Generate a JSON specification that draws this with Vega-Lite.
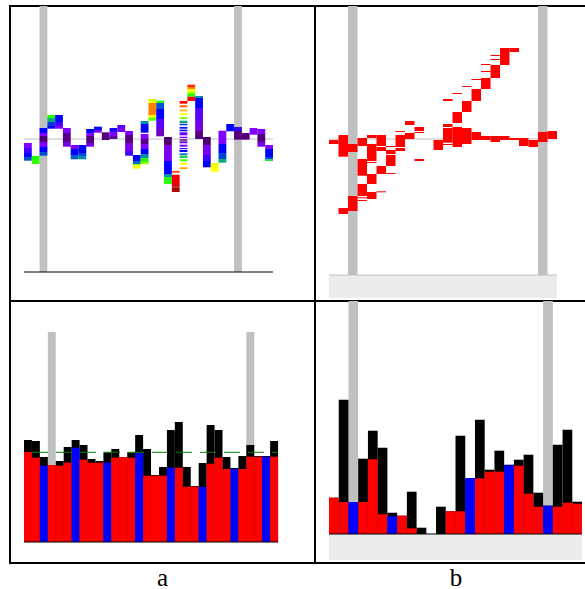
{
"$schema": "https://vega.github.io/schema/vega-lite/v6.json",
"padding": {"left": 9, "top": 5, "right": 0, "bottom": 0},
"columns": 2,
"align": "each",
"bounds": "flush",
"spacing": 0,
"config": {"view": {"stroke": "black", "strokeWidth": 2}, "scale": {"continuousPadding": 0}},
"resolve": {"scale": {"x": "independent", "y": "independent", "color": "independent"}},
"datasets": {
"atop": [
{"k":0,"hi":-4,"lo":-9,"lv":1},{"k":0,"hi":-9,"lo":-14,"lv":1.5},{"k":0,"hi":-14,"lo":-18,"lv":2},{"k":0,"hi":-18,"lo":-21.7,"lv":2.6},
{"k":1,"hi":-17,"lo":-21,"lv":4},{"k":1,"hi":-21,"lo":-25,"lv":4.1},
{"k":2,"hi":11,"lo":6,"lv":2},{"k":2,"hi":6,"lo":3,"lv":1},{"k":2,"hi":3,"lo":-3,"lv":0},{"k":2,"hi":-3,"lo":-8,"lv":1},{"k":2,"hi":-8,"lo":-13,"lv":2},{"k":2,"hi":-13,"lo":-16.7,"lv":2.6},
{"k":3,"hi":24,"lo":21,"lv":4},{"k":3,"hi":21,"lo":17,"lv":3.3},{"k":3,"hi":17,"lo":13,"lv":2.4},{"k":3,"hi":13,"lo":10.3,"lv":2},
{"k":4,"hi":24,"lo":17,"lv":2},{"k":4,"hi":17,"lo":13,"lv":1.5},{"k":4,"hi":13,"lo":10.3,"lv":1},
{"k":5,"hi":11,"lo":6,"lv":1},{"k":5,"hi":6,"lo":-3,"lv":0.2},{"k":5,"hi":-3,"lo":-7.7,"lv":0.8},
{"k":6,"hi":-6,"lo":-10,"lv":1},{"k":6,"hi":-10,"lo":-16,"lv":2},{"k":6,"hi":-16,"lo":-20.3,"lv":2.7},
{"k":7,"hi":-6,"lo":-14,"lv":2},{"k":7,"hi":-14,"lo":-17,"lv":2.5},{"k":7,"hi":-17,"lo":-20.3,"lv":3},
{"k":8,"hi":10,"lo":6,"lv":2},{"k":8,"hi":6,"lo":3,"lv":1},{"k":8,"hi":3,"lo":-4,"lv":0.1},{"k":8,"hi":-4,"lo":-7.7,"lv":0.8},
{"k":9,"hi":12.3,"lo":9,"lv":2},{"k":9,"hi":9,"lo":6.3,"lv":1},
{"k":10,"hi":6.7,"lo":-1,"lv":0.1},
{"k":11,"hi":11,"lo":7,"lv":1.8},{"k":11,"hi":7,"lo":3,"lv":1},{"k":11,"hi":3,"lo":0,"lv":0.3},
{"k":12,"hi":14,"lo":10,"lv":1.3},{"k":12,"hi":10,"lo":7,"lv":1},
{"k":13,"hi":8,"lo":4,"lv":1},{"k":13,"hi":4,"lo":-4,"lv":0.1},{"k":13,"hi":-4,"lo":-12,"lv":0.9},{"k":13,"hi":-12,"lo":-16.7,"lv":1.5},
{"k":14,"hi":-16,"lo":-22,"lv":2},{"k":14,"hi":-22,"lo":-25,"lv":2.8},{"k":14,"hi":-25,"lo":-26.5,"lv":4.5},{"k":14,"hi":-26.5,"lo":-29.7,"lv":5},
{"k":15,"hi":18,"lo":15,"lv":3},{"k":15,"hi":15,"lo":6.3,"lv":2},{"k":15,"hi":5,"lo":0,"lv":1},{"k":15,"hi":0,"lo":-5,"lv":0.2},{"k":15,"hi":-5,"lo":-10,"lv":1},{"k":15,"hi":-10,"lo":-15,"lv":2},{"k":15,"hi":-15,"lo":-19,"lv":3},{"k":15,"hi":-19,"lo":-23,"lv":4},{"k":15,"hi":-23,"lo":-25.3,"lv":4.6},
{"k":16,"hi":40,"lo":38,"lv":4.8},{"k":16,"hi":38,"lo":36,"lv":5},{"k":16,"hi":36,"lo":24,"lv":6},{"k":16,"hi":24,"lo":21.5,"lv":5},{"k":16,"hi":21.5,"lo":18.3,"lv":4.3},
{"k":17,"hi":38.3,"lo":36,"lv":4},{"k":17,"hi":36,"lo":30,"lv":2.6},{"k":17,"hi":30,"lo":20,"lv":2},{"k":17,"hi":20,"lo":10,"lv":1.3},{"k":17,"hi":10,"lo":2.7,"lv":0.6},
{"k":18,"hi":2,"lo":-6,"lv":0},{"k":18,"hi":-6,"lo":-22,"lv":0.9},{"k":18,"hi":-22,"lo":-35,"lv":2},{"k":18,"hi":-35,"lo":-38,"lv":3},{"k":18,"hi":-38,"lo":-45,"lv":4},
{"k":19,"hi":-32,"lo":-33.7,"lv":6.5},{"k":19,"hi":-35.7,"lo":-47.7,"lv":7.2},{"k":19,"hi":-47.7,"lo":-48.3,"lv":9},{"k":19,"hi":-48.3,"lo":-53,"lv":7.8},
{"k":20,"hi":38,"lo":35.3,"lv":7},{"k":20,"hi":33.7,"lo":31.7,"lv":6.2},{"k":20,"hi":29.3,"lo":27.7,"lv":5.6},{"k":20,"hi":25.7,"lo":23.7,"lv":5},{"k":20,"hi":21.7,"lo":20,"lv":4.3},{"k":20,"hi":18.3,"lo":16,"lv":3.3},{"k":20,"hi":15.3,"lo":13.7,"lv":2.4},{"k":20,"hi":12,"lo":10.3,"lv":2.1},{"k":20,"hi":9.3,"lo":7.7,"lv":2},{"k":20,"hi":6.7,"lo":3.7,"lv":1.2},{"k":20,"hi":2.3,"lo":1,"lv":1},{"k":20,"hi":-0.3,"lo":-1.7,"lv":0},{"k":20,"hi":-2.3,"lo":-4.3,"lv":0.8},{"k":20,"hi":-5.7,"lo":-7.7,"lv":1},{"k":20,"hi":-9,"lo":-10.3,"lv":1.2},{"k":20,"hi":-11,"lo":-13,"lv":2},{"k":20,"hi":-14.3,"lo":-16.3,"lv":2.8},{"k":20,"hi":-17,"lo":-19,"lv":3.6},{"k":20,"hi":-20.3,"lo":-22.3,"lv":4.2},{"k":20,"hi":-23.7,"lo":-25.7,"lv":5},{"k":20,"hi":-28.3,"lo":-30,"lv":5.7},
{"k":21,"hi":54.3,"lo":52,"lv":6.7},{"k":21,"hi":52,"lo":50,"lv":6},{"k":21,"hi":50,"lo":47,"lv":5},{"k":21,"hi":47,"lo":45,"lv":4.5},{"k":21,"hi":45,"lo":42.3,"lv":4},{"k":21,"hi":42.3,"lo":38,"lv":7},
{"k":22,"hi":43,"lo":41,"lv":3},{"k":22,"hi":41,"lo":31,"lv":2},{"k":22,"hi":31,"lo":18,"lv":1.3},{"k":22,"hi":18,"lo":8,"lv":0.8},{"k":22,"hi":8,"lo":0,"lv":0.1},
{"k":23,"hi":2,"lo":-6,"lv":0},{"k":23,"hi":-6,"lo":-16,"lv":0.9},{"k":23,"hi":-16,"lo":-22,"lv":1.5},{"k":23,"hi":-22,"lo":-28.3,"lv":2},
{"k":24,"hi":-24,"lo":-27,"lv":4.9},{"k":24,"hi":-27,"lo":-32.7,"lv":5},
{"k":25,"hi":8.3,"lo":4,"lv":1},{"k":25,"hi":4,"lo":-5,"lv":1},{"k":25,"hi":-5,"lo":-14,"lv":2},{"k":25,"hi":-14,"lo":-20,"lv":2.5},{"k":25,"hi":-20,"lo":-23.7,"lv":3.3},
{"k":26,"hi":15,"lo":7.7,"lv":2},
{"k":27,"hi":12,"lo":8,"lv":1.6},{"k":27,"hi":8,"lo":-0.7,"lv":0.1},
{"k":28,"hi":6,"lo":-0.7,"lv":0.1},
{"k":29,"hi":11,"lo":4.3,"lv":1},
{"k":30,"hi":10,"lo":5,"lv":1},{"k":30,"hi":5,"lo":-3,"lv":0.1},{"k":30,"hi":-3,"lo":-7.7,"lv":0.9},
{"k":31,"hi":-6,"lo":-10,"lv":1},{"k":31,"hi":-10,"lo":-18,"lv":2},{"k":31,"hi":-18,"lo":-20.5,"lv":2.5},{"k":31,"hi":-20.5,"lo":-22,"lv":3.8}
],
"btop": [
{"k":0,"hi":-1,"lo":-5},
{"k":1,"hi":4,"lo":-17.7},{"k":1,"hi":-69,"lo":-75},
{"k":2,"hi":-5,"lo":-13},{"k":2,"hi":-57,"lo":-72},
{"k":3,"hi":1,"lo":-7},{"k":3,"hi":-20,"lo":-36.7},{"k":3,"hi":-45,"lo":-57},{"k":3,"hi":-58.3,"lo":-59.3},{"k":3,"hi":-61,"lo":-62},
{"k":4,"hi":4,"lo":1},{"k":4,"hi":-5,"lo":-22},{"k":4,"hi":-23,"lo":-24},{"k":4,"hi":-35,"lo":-45},{"k":4,"hi":-53,"lo":-60},
{"k":5,"hi":4,"lo":-7},{"k":5,"hi":-8,"lo":-12},{"k":5,"hi":-27,"lo":-35},{"k":5,"hi":-52.3,"lo":-53.3},
{"k":6,"hi":-7,"lo":-8},{"k":6,"hi":-11,"lo":-15},{"k":6,"hi":-16,"lo":-27},{"k":6,"hi":-34,"lo":-35},
{"k":7,"hi":8,"lo":7},{"k":7,"hi":4,"lo":-8},{"k":7,"hi":-9,"lo":-12},
{"k":8,"hi":18,"lo":14},{"k":8,"hi":6,"lo":0},
{"k":9,"hi":12,"lo":8},{"k":9,"hi":7,"lo":6},{"k":9,"hi":-20,"lo":-22},
{"k":11,"hi":-1,"lo":-11},
{"k":12,"hi":40,"lo":38},{"k":12,"hi":15,"lo":12},{"k":12,"hi":11,"lo":-3.7},{"k":12,"hi":-5,"lo":-6},
{"k":13,"hi":46,"lo":45},{"k":13,"hi":27,"lo":16},{"k":13,"hi":12,"lo":-8},
{"k":14,"hi":53,"lo":52},{"k":14,"hi":38,"lo":27},{"k":14,"hi":11,"lo":-5},
{"k":15,"hi":60,"lo":59},{"k":15,"hi":50,"lo":38},{"k":15,"hi":7,"lo":-1},
{"k":16,"hi":75,"lo":74},{"k":16,"hi":68,"lo":67},{"k":16,"hi":61,"lo":50},{"k":16,"hi":3,"lo":-1},
{"k":17,"hi":84,"lo":83},{"k":17,"hi":80,"lo":79},{"k":17,"hi":74,"lo":61},{"k":17,"hi":3,"lo":-3},
{"k":18,"hi":91,"lo":74},{"k":18,"hi":3,"lo":-1},
{"k":19,"hi":91,"lo":87},{"k":19,"hi":1,"lo":-1},
{"k":20,"hi":1,"lo":-7},
{"k":21,"hi":-1,"lo":-8},
{"k":22,"hi":7,"lo":-3},
{"k":23,"hi":8,"lo":0}
],
"abot": [
{"k":0,"t":"r","v":90,"blk":102},{"k":1,"t":"r","v":84.3,"blk":101},{"k":2,"t":"b","v":76.3,"blk":85},{"k":3,"t":"r","v":77,"blk":77},
{"k":4,"t":"r","v":76.3,"blk":81},{"k":5,"t":"r","v":79.3,"blk":95},{"k":6,"t":"b","v":94.3,"blk":102},{"k":7,"t":"r","v":82.3,"blk":97},
{"k":8,"t":"r","v":79.3,"blk":83},{"k":9,"t":"r","v":79.3,"blk":81},{"k":10,"t":"b","v":79.3,"blk":89.7},{"k":11,"t":"r","v":84.3,"blk":93},
{"k":12,"t":"r","v":85,"blk":85},{"k":13,"t":"r","v":84.3,"blk":89.7},{"k":14,"t":"b","v":89,"blk":107},{"k":15,"t":"r","v":66.3,"blk":93},
{"k":16,"t":"r","v":66.3,"blk":67},{"k":17,"t":"r","v":66.3,"blk":75},{"k":18,"t":"b","v":74.3,"blk":112},{"k":19,"t":"r","v":74.3,"blk":120},
{"k":20,"t":"r","v":55.3,"blk":75},{"k":21,"t":"r","v":55.3,"blk":56},{"k":22,"t":"b","v":55,"blk":79},{"k":23,"t":"r","v":78.3,"blk":117},
{"k":24,"t":"r","v":84.3,"blk":112},{"k":25,"t":"r","v":73,"blk":85},{"k":26,"t":"b","v":73,"blk":74},{"k":27,"t":"r","v":73,"blk":86},
{"k":28,"t":"r","v":85.3,"blk":97},{"k":29,"t":"r","v":85.3,"blk":86},{"k":30,"t":"b","v":85.3,"blk":86},{"k":31,"t":"r","v":85.3,"blk":101}
],
"bbot": [
{"k":0,"t":"r","v":36.3,"blk":36.3},{"k":1,"t":"r","v":32,"blk":134.3},{"k":2,"t":"b","v":32,"blk":32},{"k":3,"t":"r","v":32,"blk":75.3},
{"k":4,"t":"r","v":74.7,"blk":103.3},{"k":5,"t":"r","v":19.7,"blk":86.3},{"k":6,"t":"b","v":17.7,"blk":21.3},{"k":7,"t":"r","v":18.3,"blk":18.3},
{"k":8,"t":"r","v":5.7,"blk":42.3},{"k":9,"t":"r","v":0,"blk":6.3},{"k":10,"t":"b","v":0,"blk":0},{"k":11,"t":"r","v":0,"blk":27.3},
{"k":12,"t":"r","v":22.7,"blk":22.7},{"k":13,"t":"r","v":22.7,"blk":98.3},{"k":14,"t":"b","v":56,"blk":56},{"k":15,"t":"r","v":55.7,"blk":114.3},
{"k":16,"t":"r","v":62.3,"blk":64.3},{"k":17,"t":"r","v":62.3,"blk":83.3},{"k":18,"t":"b","v":68.7,"blk":69.3},{"k":19,"t":"r","v":68.3,"blk":74.3},
{"k":20,"t":"r","v":40.3,"blk":79.3},{"k":21,"t":"r","v":27.3,"blk":41.3},{"k":22,"t":"b","v":28.3,"blk":28.3},{"k":23,"t":"r","v":27.3,"blk":89.3},
{"k":24,"t":"r","v":31.3,"blk":104.3},{"k":25,"t":"r","v":30.3,"blk":32.3}
],
"atopGray": [{"k":2},{"k":27}],
"btopGray": [{"k":2},{"k":22}],
"abotGray": [{"k":3},{"k":28}],
"bbotGray": [{"k":2},{"k":22}],
"one": [{}]
},
"concat": [
{
"width": 305, "height": 295,
"layer": [
{"data": {"name": "atopGray"}, "mark": {"type": "bar", "color": "#c0c0c0", "width": 7.8},
 "encoding": {
  "x": {"field": "k", "type": "quantitative", "axis": null, "scale": {"domain": [-2.3, 36.9], "nice": false, "zero": false, "padding": 0}},
  "y": {"datum": 133, "type": "quantitative", "axis": null, "scale": {"domain": [-162, 133], "nice": false, "zero": false, "padding": 0}},
  "y2": {"datum": -133}}},
{"data": {"name": "one"}, "mark": {"type": "rule", "color": "#c0c0c0", "strokeWidth": 1},
 "encoding": {"x": {"datum": -0.5, "type": "quantitative"}, "x2": {"datum": 31.5}, "y": {"datum": 0, "type": "quantitative"}}},
{"data": {"name": "atop"}, "mark": {"type": "bar", "width": 7.8},
 "encoding": {
  "x": {"field": "k", "type": "quantitative"},
  "y": {"field": "hi", "type": "quantitative", "stack": null},
  "y2": {"field": "lo"},
  "color": {"field": "lv", "type": "quantitative", "legend": null, "scale": {"domain": [0,1,2,3,4,5,6,7,8,9], "range": ["#50006e","#7f00ff","#0000ff","#008caa","#20ff00","#ffff00","#ff8000","#ff0000","#a00000","#000000"], "interpolate": "rgb"}}}},
{"data": {"name": "one"}, "mark": {"type": "rule", "color": "black", "strokeWidth": 1},
 "encoding": {"x": {"datum": -0.5, "type": "quantitative"}, "x2": {"datum": 31.5}, "y": {"datum": -133, "type": "quantitative"}}}
]
},
{
"width": 282, "height": 295,
"layer": [
{"data": {"name": "one"}, "mark": {"type": "rect", "color": "#ececec"},
 "encoding": {
  "x": {"datum": -0.5, "type": "quantitative", "axis": null, "scale": {"domain": [-1.974, 27.71], "nice": false, "zero": false, "padding": 0}},
  "x2": {"datum": 23.5},
  "y": {"datum": -136, "type": "quantitative", "axis": null, "scale": {"domain": [-162, 133], "nice": false, "zero": false, "padding": 0}},
  "y2": {"datum": -159}}},
{"data": {"name": "one"}, "mark": {"type": "rule", "color": "#c0c0c0", "strokeWidth": 1},
 "encoding": {"x": {"datum": -0.5, "type": "quantitative"}, "x2": {"datum": 23.5}, "y": {"datum": -136, "type": "quantitative"}}},
{"data": {"name": "btopGray"}, "mark": {"type": "bar", "color": "#c0c0c0", "width": 9.5},
 "encoding": {"x": {"field": "k", "type": "quantitative"}, "y": {"datum": 133, "type": "quantitative"}, "y2": {"datum": -136}}},
{"data": {"name": "one"}, "mark": {"type": "rule", "color": "#c0c0c0", "strokeWidth": 1},
 "encoding": {"x": {"datum": -0.5, "type": "quantitative"}, "x2": {"datum": 23.5}, "y": {"datum": 0, "type": "quantitative"}}},
{"data": {"name": "btop"}, "mark": {"type": "bar", "color": "#ff0000", "width": 9.5},
 "encoding": {"x": {"field": "k", "type": "quantitative"}, "y": {"field": "hi", "type": "quantitative", "stack": null}, "y2": {"field": "lo"}}}
]
},
{
"width": 305, "height": 262,
"layer": [
{"data": {"name": "abotGray"}, "mark": {"type": "bar", "color": "#c0c0c0", "width": 7.94},
 "encoding": {
  "x": {"field": "k", "type": "quantitative", "axis": null, "scale": {"domain": [-2.263, 36.15], "nice": false, "zero": false, "padding": 0}},
  "y": {"datum": 210, "type": "quantitative", "axis": null, "scale": {"domain": [-21, 241], "nice": false, "zero": false, "padding": 0}},
  "y2": {"datum": 0}}},
{"data": {"name": "abot"}, "mark": {"type": "bar", "color": "black", "width": 7.94},
 "encoding": {"x": {"field": "k", "type": "quantitative"}, "y": {"field": "blk", "type": "quantitative", "stack": null}, "y2": {"datum": 0}}},
{"data": {"name": "abot"}, "mark": {"type": "bar", "width": 7.94},
 "encoding": {"x": {"field": "k", "type": "quantitative"}, "y": {"field": "v", "type": "quantitative", "stack": null}, "y2": {"datum": 0},
  "color": {"field": "t", "type": "nominal", "legend": null, "scale": {"domain": ["r", "b"], "range": ["#ff0000", "#0000ff"]}}}},
{"data": {"name": "one"}, "mark": {"type": "rule", "color": "black", "strokeWidth": 1},
 "encoding": {"x": {"datum": -0.5, "type": "quantitative"}, "x2": {"datum": 31.5}, "y": {"datum": 0, "type": "quantitative"}}},
{"data": {"name": "one"}, "mark": {"type": "rule", "color": "#008000", "strokeWidth": 1, "strokeDash": [16, 8], "strokeDashOffset": 16},
 "encoding": {"x": {"datum": -0.5, "type": "quantitative"}, "x2": {"datum": 31.5}, "y": {"datum": 89.7, "type": "quantitative"}}}
]
},
{
"width": 282, "height": 262,
"layer": [
{"data": {"name": "one"}, "mark": {"type": "rect", "color": "#ececec"},
 "encoding": {
  "x": {"datum": -0.5, "type": "quantitative", "axis": null, "scale": {"domain": [-1.939, 27.04], "nice": false, "zero": false, "padding": 0}},
  "x2": {"datum": 25.5},
  "y": {"datum": 0, "type": "quantitative", "axis": null, "scale": {"domain": [-29, 233], "nice": false, "zero": false, "padding": 0}},
  "y2": {"datum": -26}}},
{"data": {"name": "bbotGray"}, "mark": {"type": "bar", "color": "#c0c0c0", "width": 9.73},
 "encoding": {"x": {"field": "k", "type": "quantitative"}, "y": {"datum": 233, "type": "quantitative"}, "y2": {"datum": 0}}},
{"data": {"name": "bbot"}, "mark": {"type": "bar", "color": "black", "width": 9.73},
 "encoding": {"x": {"field": "k", "type": "quantitative"}, "y": {"field": "blk", "type": "quantitative", "stack": null}, "y2": {"datum": 0}}},
{"data": {"name": "bbot"}, "mark": {"type": "bar", "width": 9.73},
 "encoding": {"x": {"field": "k", "type": "quantitative"}, "y": {"field": "v", "type": "quantitative", "stack": null}, "y2": {"datum": 0},
  "color": {"field": "t", "type": "nominal", "legend": null, "scale": {"domain": ["r", "b"], "range": ["#ff0000", "#0000ff"]}}}},
{"data": {"name": "one"}, "mark": {"type": "rule", "color": "black", "strokeWidth": 1},
 "encoding": {"x": {"datum": -0.5, "type": "quantitative"}, "x2": {"datum": 25.5}, "y": {"datum": 0, "type": "quantitative"}}}
]
},
{"width": 305, "height": 46, "data": {"values": [{"label": "a"}]},
 "mark": {"type": "text", "font": "Liberation Serif", "fontSize": 25, "baseline": "alphabetic", "align": "center", "color": "black"},
 "encoding": {"text": {"field": "label"}}},
{"width": 282, "height": 46, "data": {"values": [{"label": "b"}]},
 "mark": {"type": "text", "font": "Liberation Serif", "fontSize": 25, "baseline": "alphabetic", "align": "center", "color": "black"},
 "encoding": {"text": {"field": "label"}}}
]
}
